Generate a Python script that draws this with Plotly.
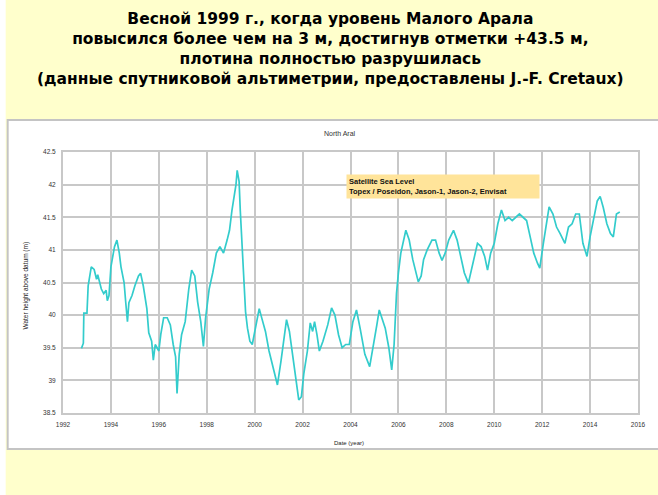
import plotly.graph_objects as go

# ---- data ----
years = [
    1992.77, 1992.85, 1992.87, 1993.0, 1993.05, 1993.18, 1993.3, 1993.4, 1993.45, 1993.52,
    1993.6, 1993.7, 1993.8, 1993.85, 1993.92, 1994.0, 1994.15, 1994.25, 1994.35, 1994.42,
    1994.55, 1994.62, 1994.69, 1994.75, 1994.88, 1995.0, 1995.15, 1995.24, 1995.35, 1995.5,
    1995.58, 1995.7, 1995.77, 1995.85, 1996.0, 1996.08, 1996.2, 1996.35, 1996.48, 1996.6,
    1996.7, 1996.76, 1996.85, 1996.95, 1997.1, 1997.25, 1997.37, 1997.5, 1997.62, 1997.75,
    1997.86, 1997.95, 1998.1, 1998.25, 1998.4, 1998.55, 1998.7, 1998.85, 1998.95, 1999.05,
    1999.15, 1999.22, 1999.27, 1999.35, 1999.4, 1999.48, 1999.55, 1999.62, 1999.7, 1999.8,
    1999.9, 2000.05, 2000.19, 2000.3, 2000.45, 2000.6, 2000.78, 2000.95, 2001.1, 2001.25,
    2001.33, 2001.45, 2001.6, 2001.75, 2001.84, 2001.95, 2002.05, 2002.2, 2002.32, 2002.42,
    2002.5, 2002.6, 2002.7, 2002.85, 2003.05, 2003.21, 2003.35, 2003.5, 2003.65, 2003.8,
    2003.95, 2004.1, 2004.25, 2004.4, 2004.6, 2004.8, 2004.95, 2005.1, 2005.2, 2005.32,
    2005.45, 2005.6, 2005.72, 2005.82, 2005.92, 2006.0, 2006.1, 2006.31, 2006.45, 2006.6,
    2006.83, 2006.95, 2007.05, 2007.2, 2007.4, 2007.55, 2007.7, 2007.82, 2007.95, 2008.1,
    2008.3, 2008.45, 2008.6, 2008.75, 2008.92, 2009.05, 2009.2, 2009.3, 2009.45, 2009.6,
    2009.72, 2009.85, 2010.0, 2010.15, 2010.3, 2010.45, 2010.6, 2010.75, 2010.9, 2011.05,
    2011.2, 2011.35, 2011.5, 2011.65, 2011.8, 2011.9, 2012.05, 2012.2, 2012.29, 2012.45,
    2012.6, 2012.75, 2012.95, 2013.1, 2013.25, 2013.4, 2013.55, 2013.7, 2013.87, 2014.0,
    2014.15, 2014.3, 2014.42, 2014.55, 2014.7, 2014.85, 2014.97, 2015.1, 2015.24,
]
levels = [
    39.49, 39.57, 40.03, 40.03, 40.45, 40.74, 40.70, 40.55, 40.62, 40.49,
    40.40, 40.33, 40.38, 40.22, 40.30, 40.74, 41.05, 41.15, 40.95, 40.74,
    40.50, 40.19, 39.90, 40.19, 40.30, 40.45, 40.60, 40.64, 40.45, 40.10,
    39.73, 39.60, 39.31, 39.55, 39.45, 39.70, 39.96, 39.96, 39.85, 39.55,
    39.36, 38.80, 39.40, 39.70, 39.90, 40.40, 40.69, 40.60, 40.20, 39.90,
    39.52, 39.95, 40.40, 40.65, 40.95, 41.05, 40.95, 41.15, 41.30, 41.60,
    41.85, 42.00, 42.22, 42.05, 41.60, 41.00, 40.45, 40.05, 39.80, 39.60,
    39.55, 39.85, 40.10, 39.95, 39.75, 39.45, 39.20, 38.93, 39.30, 39.75,
    39.93, 39.75, 39.35, 38.95, 38.70, 38.75, 39.10, 39.45, 39.88, 39.75,
    39.90, 39.70, 39.45, 39.60, 39.85, 40.11, 40.00, 39.70, 39.50, 39.55,
    39.55, 39.90, 40.08, 39.80, 39.40, 39.21, 39.50, 39.85, 40.08, 39.95,
    39.80, 39.50, 39.16, 39.55, 40.33, 40.65, 40.95, 41.30, 41.15, 40.85,
    40.51, 40.60, 40.85, 41.00, 41.15, 41.15, 40.95, 40.84, 40.95, 41.15,
    41.30, 41.15, 40.90, 40.65, 40.49, 40.70, 40.95, 41.10, 41.05, 40.90,
    40.69, 40.95, 41.10, 41.40, 41.61, 41.45, 41.50, 41.45, 41.50, 41.55,
    41.50, 41.45, 41.20, 40.95, 40.80, 40.72, 41.10, 41.45, 41.66, 41.55,
    41.35, 41.25, 41.10, 41.35, 41.40, 41.55, 41.55, 41.10, 40.90, 41.20,
    41.50, 41.75, 41.82, 41.65, 41.40, 41.25, 41.20, 41.55, 41.58,
]
x_ticks = list(range(1992, 2017, 2))
y_ticks = [38.5, 39.0, 39.5, 40.0, 40.5, 41.0, 41.5, 42.0, 42.5]

title_lines = [
    "Весной 1999 г., когда уровень Малого Арала",
    "повысился более чем на 3 м, достигнув отметки +43.5 м,",
    "плотина полностью разрушилась",
    "(данные спутниковой альтиметрии, предоставлены J.-F. Cretaux)",
]
chart_title = "North Aral"
legend_lines = ["Satellite Sea Level", "Topex / Poseidon, Jason-1, Jason-2, Envisat"]

# ---- layout geometry (pixels) ----
W, H = 658, 495
L, R, T, B = 63, 645, 152, 413


def px(xp):
    return (xp - L) / (R - L)


def py(yp):
    return (B - yp) / (B - T)


fig = go.Figure()
fig.add_trace(go.Scatter(
    x=years, y=levels, mode="lines",
    line=dict(color="#33CCCC", width=1.7),
    showlegend=False, hoverinfo="skip",
))

grid = "#C8C8C8"
tickfont = dict(family="Liberation Sans, Arial", size=6.5, color="#333333")

fig.update_layout(
    width=W, height=H,
    margin=dict(l=L, r=W - R, t=T, b=H - B),
    paper_bgcolor="#FFFFCC",
    plot_bgcolor="white",
    xaxis=dict(range=[1992, 2016], tickvals=x_ticks, ticktext=[str(v) for v in x_ticks],
               showgrid=True, gridcolor=grid, gridwidth=2, zeroline=False,
               showline=True, linecolor=grid, linewidth=2, mirror=True,
               ticks="", tickfont=tickfont, ticklabelstandoff=4),
    yaxis=dict(range=[38.5, 42.5], tickvals=y_ticks,
               ticktext=[f"{v:.1f}" if v % 1 else f"{int(v)}" for v in y_ticks],
               showgrid=True, gridcolor=grid, gridwidth=2, zeroline=False,
               showline=True, linecolor=grid, linewidth=2, mirror=True,
               ticks="", tickfont=tickfont, ticklabelstandoff=4),
)

shapes = [
    # white chart panel
    dict(type="rect", xref="paper", yref="paper", layer="below",
         x0=px(7), x1=px(670), y0=py(449), y1=py(120),
         fillcolor="white", line=dict(color="#C4C4C4", width=2)),
    # white strip at the far left
    dict(type="rect", xref="paper", yref="paper", layer="below",
         x0=px(-2), x1=px(5), y0=py(500), y1=py(-5),
         fillcolor="white", line=dict(width=0)),
]
fig.update_layout(shapes=shapes)

annotations = [
    dict(text="<br>".join(f"<b>{t}</b>" for t in title_lines),
         xref="paper", yref="paper", x=px(334), y=py(8), xanchor="center", yanchor="top",
         showarrow=False, align="center",
         font=dict(family="DejaVu Sans", size=15.5, color="#000000")),
    dict(text=chart_title, xref="paper", yref="paper", x=px(343), y=py(133),
         xanchor="center", yanchor="middle", showarrow=False,
         font=dict(family="Liberation Sans, Arial", size=7, color="#333333")),
    dict(text="Date (year)", xref="paper", yref="paper", x=px(352), y=py(443),
         xanchor="center", yanchor="middle", showarrow=False,
         font=dict(family="Liberation Sans, Arial", size=6, color="#222222")),
    dict(text="Water height above datum (m)", xref="paper", yref="paper", x=px(26), y=py(285),
         xanchor="center", yanchor="middle", showarrow=False, textangle=-90,
         font=dict(family="Liberation Sans, Arial", size=6.5, color="#222222")),
    dict(text="<b>" + legend_lines[0] + "</b><br><b>" + legend_lines[1] + "</b>",
         xref="paper", yref="paper", x=px(349), y=py(174), xanchor="left", yanchor="top",
         showarrow=False, align="left", bgcolor="#FFE49A", borderpad=2, width=188,
         font=dict(family="Liberation Sans, Arial", size=7.5, color="#111111")),
]
fig.update_layout(annotations=annotations)

fig.write_html("out.html", config={"displayModeBar": False},
               post_script="document.body.style.margin='0';")
